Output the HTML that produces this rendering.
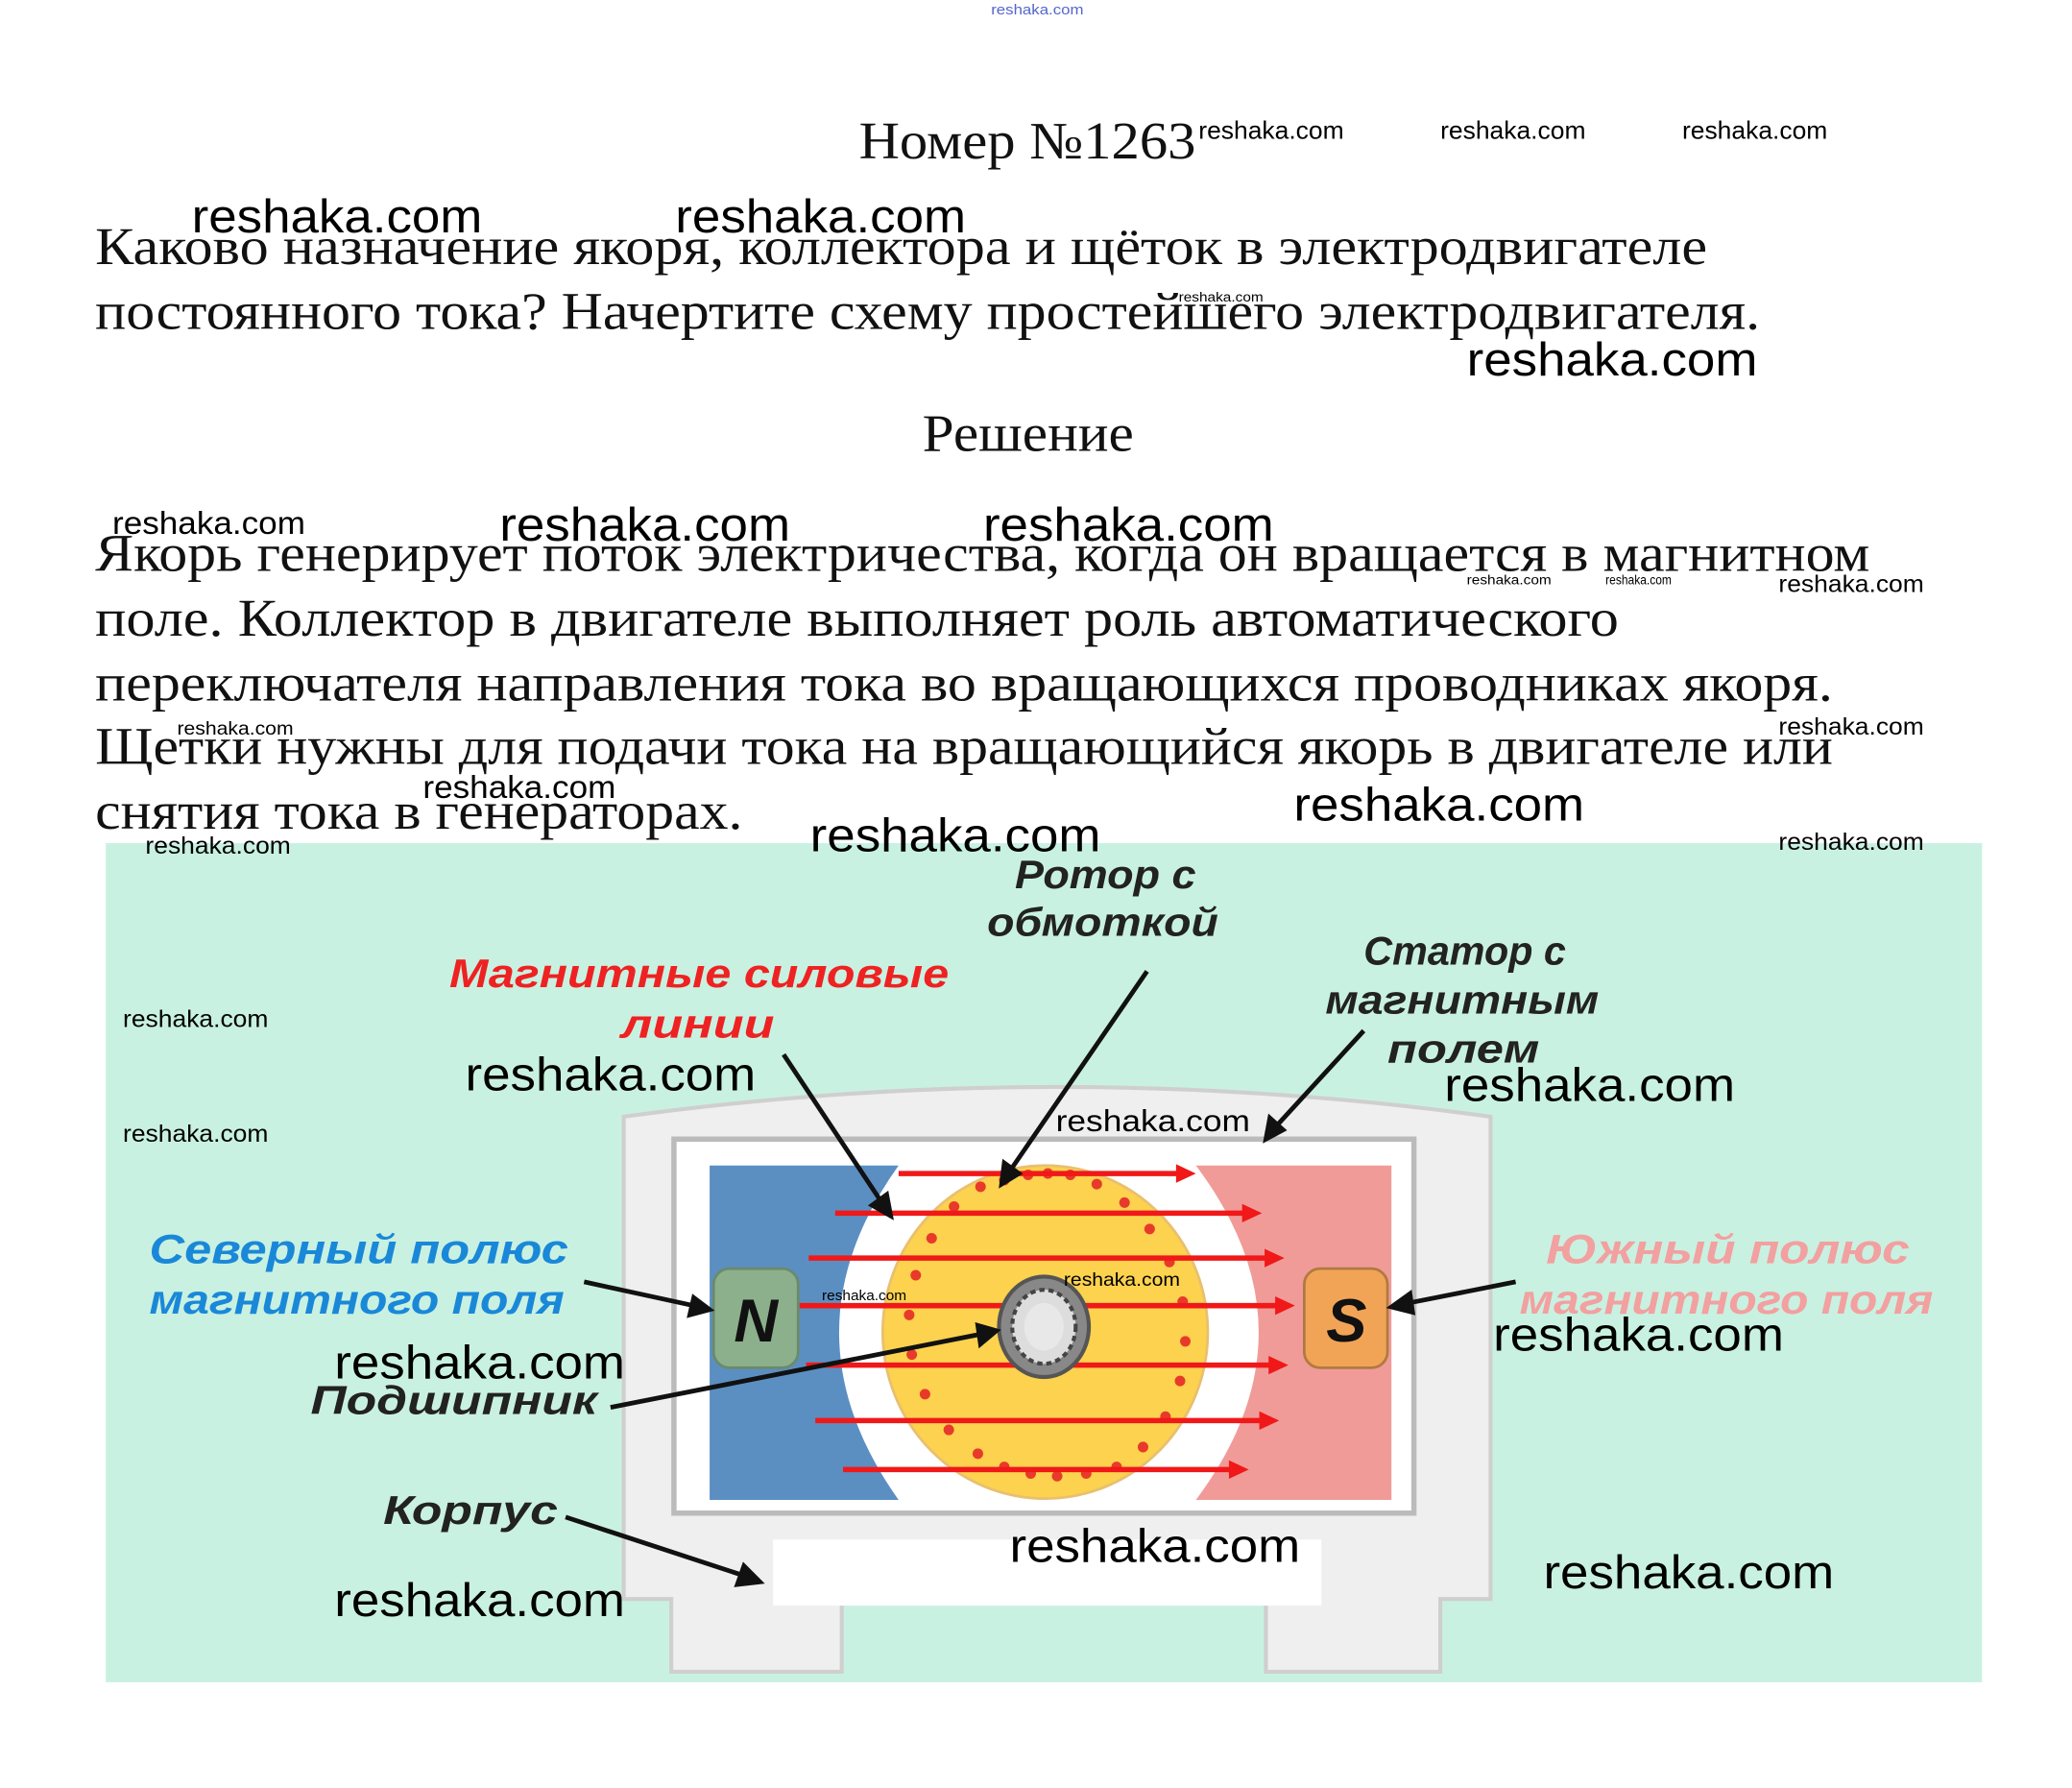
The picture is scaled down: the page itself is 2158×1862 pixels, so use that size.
<!DOCTYPE html>
<html><head><meta charset="utf-8"><style>
html,body{margin:0;padding:0;background:#fff;width:2158px;height:1862px;overflow:hidden}
svg{display:block}
.s{font-family:"Liberation Serif",serif;fill:#111}
.w{font-family:"Liberation Sans",sans-serif;fill:#000}
.l{font-family:"Liberation Sans",sans-serif;font-weight:bold;font-style:italic}
</style></head><body>
<svg width="2158" height="1862" viewBox="0 0 1568 1353" xmlns="http://www.w3.org/2000/svg">
<text x="750" y="11" class="w" font-size="11" style="fill:#5566cc" textLength="70" lengthAdjust="spacingAndGlyphs">reshaka.com</text>
<text x="650" y="120" class="s" font-size="40" textLength="255" lengthAdjust="spacingAndGlyphs">Номер №1263</text>
<text x="907" y="105" class="w" font-size="19" textLength="110" lengthAdjust="spacingAndGlyphs">reshaka.com</text>
<text x="1090" y="105" class="w" font-size="19" textLength="110" lengthAdjust="spacingAndGlyphs">reshaka.com</text>
<text x="1273" y="105" class="w" font-size="19" textLength="110" lengthAdjust="spacingAndGlyphs">reshaka.com</text>
<text x="145" y="176" class="w" font-size="36" textLength="220" lengthAdjust="spacingAndGlyphs">reshaka.com</text>
<text x="511" y="176" class="w" font-size="36" textLength="220" lengthAdjust="spacingAndGlyphs">reshaka.com</text>
<text x="72" y="200" class="s" font-size="40" textLength="1220" lengthAdjust="spacingAndGlyphs">Каково назначение якоря, коллектора и щёток в электродвигателе</text>
<text x="72" y="249" class="s" font-size="40" textLength="1260" lengthAdjust="spacingAndGlyphs">постоянного тока? Начертите схему простейшего электродвигателя.</text>
<text x="892" y="228" class="w" font-size="10" textLength="64" lengthAdjust="spacingAndGlyphs">reshaka.com</text>
<text x="1110" y="284" class="w" font-size="36" textLength="220" lengthAdjust="spacingAndGlyphs">reshaka.com</text>
<text x="698" y="341" class="s" font-size="40" textLength="160" lengthAdjust="spacingAndGlyphs">Решение</text>
<text x="85" y="404" class="w" font-size="24" textLength="146" lengthAdjust="spacingAndGlyphs">reshaka.com</text>
<text x="378" y="409" class="w" font-size="36" textLength="220" lengthAdjust="spacingAndGlyphs">reshaka.com</text>
<text x="744" y="409" class="w" font-size="36" textLength="220" lengthAdjust="spacingAndGlyphs">reshaka.com</text>
<text x="72" y="432" class="s" font-size="40" textLength="1343" lengthAdjust="spacingAndGlyphs">Якорь генерирует поток электричества, когда он вращается в магнитном</text>
<text x="72" y="481" class="s" font-size="40" textLength="1153" lengthAdjust="spacingAndGlyphs">поле. Коллектор в двигателе выполняет роль автоматического</text>
<text x="72" y="530" class="s" font-size="40" textLength="1315" lengthAdjust="spacingAndGlyphs">переключателя направления тока во вращающихся проводниках якоря.</text>
<text x="72" y="578" class="s" font-size="40" textLength="1315" lengthAdjust="spacingAndGlyphs">Щетки нужны для подачи тока на вращающийся якорь в двигателе или</text>
<text x="72" y="627" class="s" font-size="40" textLength="490" lengthAdjust="spacingAndGlyphs">снятия тока в генераторах.</text>
<text x="1110" y="442" class="w" font-size="10" textLength="64" lengthAdjust="spacingAndGlyphs">reshaka.com</text>
<text x="1215" y="442" class="w" font-size="10" textLength="50" lengthAdjust="spacingAndGlyphs">reshaka.com</text>
<text x="1346" y="448" class="w" font-size="18" textLength="110" lengthAdjust="spacingAndGlyphs">reshaka.com</text>
<text x="134" y="556" class="w" font-size="14" textLength="88" lengthAdjust="spacingAndGlyphs">reshaka.com</text>
<text x="1346" y="556" class="w" font-size="18" textLength="110" lengthAdjust="spacingAndGlyphs">reshaka.com</text>
<text x="320" y="604" class="w" font-size="24" textLength="146" lengthAdjust="spacingAndGlyphs">reshaka.com</text>
<text x="979" y="621" class="w" font-size="36" textLength="220" lengthAdjust="spacingAndGlyphs">reshaka.com</text>
<rect x="80" y="638" width="1420" height="635" fill="#c9f1e1"/>
<text x="613" y="644" class="w" font-size="36" textLength="220" lengthAdjust="spacingAndGlyphs">reshaka.com</text>
<text x="110" y="646" class="w" font-size="18" textLength="110" lengthAdjust="spacingAndGlyphs">reshaka.com</text>
<text x="1346" y="643" class="w" font-size="18" textLength="110" lengthAdjust="spacingAndGlyphs">reshaka.com</text>
<path d="M472 845 Q800 800 1128 845 L1128 1210 L1090 1210 L1090 1265 L958 1265 L958 1210 L637 1210 L637 1265 L508 1265 L508 1210 L472 1210 Z" fill="#efefef" stroke="#cfcfcf" stroke-width="3"/>
<rect x="510" y="862" width="560" height="283" fill="#fff" stroke="#bbb" stroke-width="4"/>
<rect x="585" y="1165" width="415" height="50" fill="#fff"/>
<path d="M537 882 L680 882 Q590 1008 680 1135 L537 1135 Z" fill="#5b8fc2"/>
<path d="M1053 882 L905 882 Q1000 1008 905 1135 L1053 1135 Z" fill="#f19b98"/>
<ellipse cx="791" cy="1008" rx="123" ry="126" fill="#fcd24e" stroke="#e8c070" stroke-width="2"/>
<g fill="#e83a2a">
<circle cx="760" cy="893" r="4"/><circle cx="778" cy="889" r="4"/><circle cx="793" cy="888" r="4"/><circle cx="810" cy="889" r="4"/><circle cx="830" cy="896" r="4"/><circle cx="851" cy="910" r="4"/><circle cx="870" cy="930" r="4"/><circle cx="885" cy="955" r="4"/><circle cx="895" cy="985" r="4"/><circle cx="897" cy="1015" r="4"/><circle cx="893" cy="1045" r="4"/><circle cx="882" cy="1072" r="4"/><circle cx="865" cy="1095" r="4"/><circle cx="845" cy="1110" r="4"/><circle cx="822" cy="1115" r="4"/><circle cx="800" cy="1117" r="4"/><circle cx="780" cy="1115" r="4"/><circle cx="760" cy="1110" r="4"/><circle cx="740" cy="1100" r="4"/><circle cx="718" cy="1082" r="4"/><circle cx="700" cy="1055" r="4"/><circle cx="690" cy="1025" r="4"/><circle cx="688" cy="995" r="4"/><circle cx="693" cy="965" r="4"/><circle cx="705" cy="937" r="4"/><circle cx="722" cy="913" r="4"/><circle cx="742" cy="898" r="4"/>
</g>
<g stroke="#f01818" stroke-width="4" fill="#f01818">
<line x1="680" y1="888" x2="895" y2="888"/><path d="M905 888 L890 881 L890 895 Z" stroke="none"/>
<line x1="632" y1="918" x2="945" y2="918"/><path d="M955 918 L940 911 L940 925 Z" stroke="none"/>
<line x1="612" y1="952" x2="962" y2="952"/><path d="M972 952 L957 945 L957 959 Z" stroke="none"/>
<line x1="605" y1="988" x2="970" y2="988"/><path d="M980 988 L965 981 L965 995 Z" stroke="none"/>
<line x1="610" y1="1033" x2="965" y2="1033"/><path d="M975 1033 L960 1026 L960 1040 Z" stroke="none"/>
<line x1="617" y1="1075" x2="958" y2="1075"/><path d="M968 1075 L953 1068 L953 1082 Z" stroke="none"/>
<line x1="638" y1="1112" x2="935" y2="1112"/><path d="M945 1112 L930 1105 L930 1119 Z" stroke="none"/>
</g>
<ellipse cx="790" cy="1004" rx="34" ry="38" fill="#888" stroke="#555" stroke-width="3"/>
<ellipse cx="790" cy="1004" rx="24" ry="28" fill="#ddd" stroke="#444" stroke-width="3" stroke-dasharray="4 3"/>
<ellipse cx="790" cy="1004" rx="15" ry="18" fill="#e8e8e8"/>
<rect x="540" y="960" width="64" height="75" rx="12" fill="#8caf8c" stroke="#6b8a6b" stroke-width="2"/>
<text x="572" y="1015" class="l" font-size="46" text-anchor="middle" fill="#111">N</text>
<rect x="987" y="960" width="63" height="75" rx="12" fill="#f2a456" stroke="#b07a40" stroke-width="2"/>
<text x="1019" y="1015" class="l" font-size="46" text-anchor="middle" fill="#111">S</text>
<g stroke="#111" stroke-width="3.5" fill="#111">
<line x1="593" y1="798" x2="666" y2="908"/><path d="M674 920 L660 912 L671 904 Z"/>
<line x1="868" y1="735" x2="765" y2="885"/><path d="M758 896 L760 880 L771 888 Z"/>
<line x1="1032" y1="780" x2="966" y2="852"/><path d="M958 862 L961 846 L971 855 Z"/>
<line x1="442" y1="970" x2="525" y2="988"/><path d="M537 991 L522 995 L525 982 Z"/>
<line x1="1147" y1="970" x2="1066" y2="986"/><path d="M1053 989 L1067 979 L1069 993 Z"/>
<line x1="462" y1="1065" x2="740" y2="1010"/><path d="M754 1007 L740 1003 L742 1017 Z"/>
<line x1="428" y1="1148" x2="562" y2="1192"/><path d="M575 1197 L558 1199 L563 1185 Z"/>
</g>
<text x="768" y="672" class="l" font-size="30" fill="#222" textLength="137" lengthAdjust="spacingAndGlyphs">Ротор с</text>
<text x="747" y="708" class="l" font-size="30" fill="#222" textLength="175" lengthAdjust="spacingAndGlyphs">обмоткой</text>
<text x="340" y="747" class="l" font-size="30" fill="#ee2222" textLength="378" lengthAdjust="spacingAndGlyphs">Магнитные силовые</text>
<text x="470" y="785" class="l" font-size="30" fill="#ee2222" textLength="116" lengthAdjust="spacingAndGlyphs">линии</text>
<text x="1032" y="730" class="l" font-size="30" fill="#222" textLength="153" lengthAdjust="spacingAndGlyphs">Статор с</text>
<text x="1003" y="767" class="l" font-size="30" fill="#222" textLength="207" lengthAdjust="spacingAndGlyphs">магнитным</text>
<text x="1050" y="804" class="l" font-size="30" fill="#222" textLength="115" lengthAdjust="spacingAndGlyphs">полем</text>
<text x="113" y="956" class="l" font-size="31" fill="#1a88d8" textLength="317" lengthAdjust="spacingAndGlyphs">Северный полюс</text>
<text x="113" y="994" class="l" font-size="31" fill="#1a88d8" textLength="314" lengthAdjust="spacingAndGlyphs">магнитного поля</text>
<text x="1170" y="956" class="l" font-size="31" fill="#f2a0a0" textLength="275" lengthAdjust="spacingAndGlyphs">Южный полюс</text>
<text x="1150" y="994" class="l" font-size="31" fill="#f2a0a0" textLength="313" lengthAdjust="spacingAndGlyphs">магнитного поля</text>
<text x="235" y="1070" class="l" font-size="30" fill="#222" textLength="217" lengthAdjust="spacingAndGlyphs">Подшипник</text>
<text x="290" y="1153" class="l" font-size="30" fill="#222" textLength="132" lengthAdjust="spacingAndGlyphs">Корпус</text>
<text x="93" y="777" class="w" font-size="18" textLength="110" lengthAdjust="spacingAndGlyphs">reshaka.com</text>
<text x="93" y="864" class="w" font-size="18" textLength="110" lengthAdjust="spacingAndGlyphs">reshaka.com</text>
<text x="352" y="825" class="w" font-size="36" textLength="220" lengthAdjust="spacingAndGlyphs">reshaka.com</text>
<text x="1093" y="833" class="w" font-size="36" textLength="220" lengthAdjust="spacingAndGlyphs">reshaka.com</text>
<text x="799" y="856" class="w" font-size="23" textLength="147" lengthAdjust="spacingAndGlyphs">reshaka.com</text>
<text x="805" y="973" class="w" font-size="14" textLength="88" lengthAdjust="spacingAndGlyphs">reshaka.com</text>
<text x="622" y="984" class="w" font-size="11" textLength="64" lengthAdjust="spacingAndGlyphs">reshaka.com</text>
<text x="253" y="1043" class="w" font-size="36" textLength="220" lengthAdjust="spacingAndGlyphs">reshaka.com</text>
<text x="1130" y="1022" class="w" font-size="36" textLength="220" lengthAdjust="spacingAndGlyphs">reshaka.com</text>
<text x="764" y="1182" class="w" font-size="36" textLength="220" lengthAdjust="spacingAndGlyphs">reshaka.com</text>
<text x="1168" y="1202" class="w" font-size="36" textLength="220" lengthAdjust="spacingAndGlyphs">reshaka.com</text>
<text x="253" y="1223" class="w" font-size="36" textLength="220" lengthAdjust="spacingAndGlyphs">reshaka.com</text>
</svg>
</body></html>
